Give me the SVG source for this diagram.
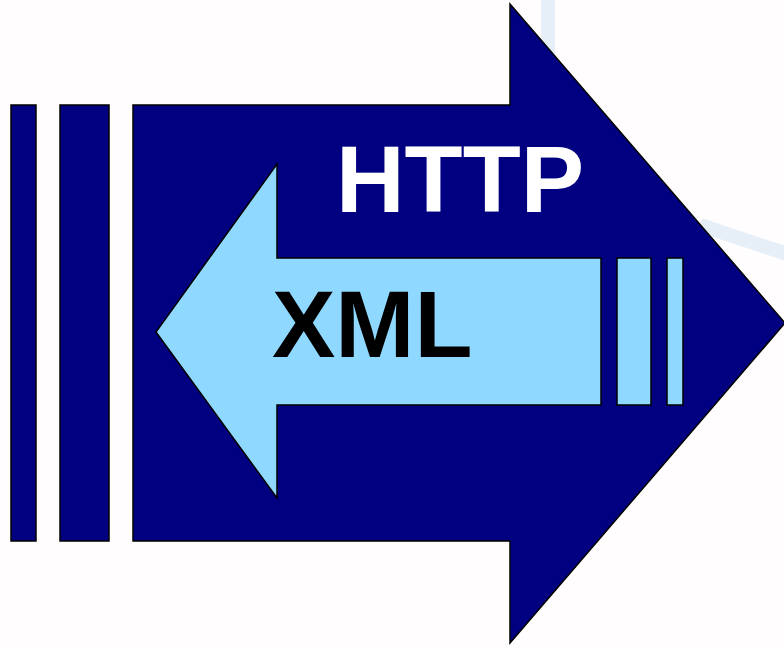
<svg xmlns="http://www.w3.org/2000/svg" width="784" height="645" viewBox="0 0 784 645">
<style>
.navy{fill:#000080;stroke:#000;stroke-width:1.5;stroke-linejoin:miter}
.light{fill:#8fd8ff;stroke:#000;stroke-width:1.5}
.lbl{font-family:"Liberation Sans",Arial,sans-serif;font-weight:bold;font-size:95px}
.bg{fill:none;stroke:#e6eff8;stroke-width:14}
</style>
<rect width="784" height="645" fill="#fffdfe"/>
<g id="background">
<line class="bg" x1="548" y1="0" x2="548" y2="60"/>
<line class="bg" x1="700" y1="225" x2="790" y2="255"/>
</g>
<g id="http-arrow">
<rect class="navy" x="11" y="105" width="25" height="436"/>
<rect class="navy" x="60" y="105" width="49" height="436"/>
<path class="navy" d="M133,105 H510 V4 L785,323 L510,643 V541 H133 Z"/>
<text class="lbl" x="336" y="212" fill="#fff">HTTP</text>
</g>
<g id="xml-arrow">
<path class="light" d="M601,258 H277 V164 L156,332 L277,498 V405 H601 Z"/>
<rect class="light" x="617" y="258" width="34" height="147"/>
<rect class="light" x="667" y="258" width="16" height="147"/>
<text class="lbl" x="272" y="357" fill="#000">XML</text>
</g>
<g id="connectors"/>
</svg>
